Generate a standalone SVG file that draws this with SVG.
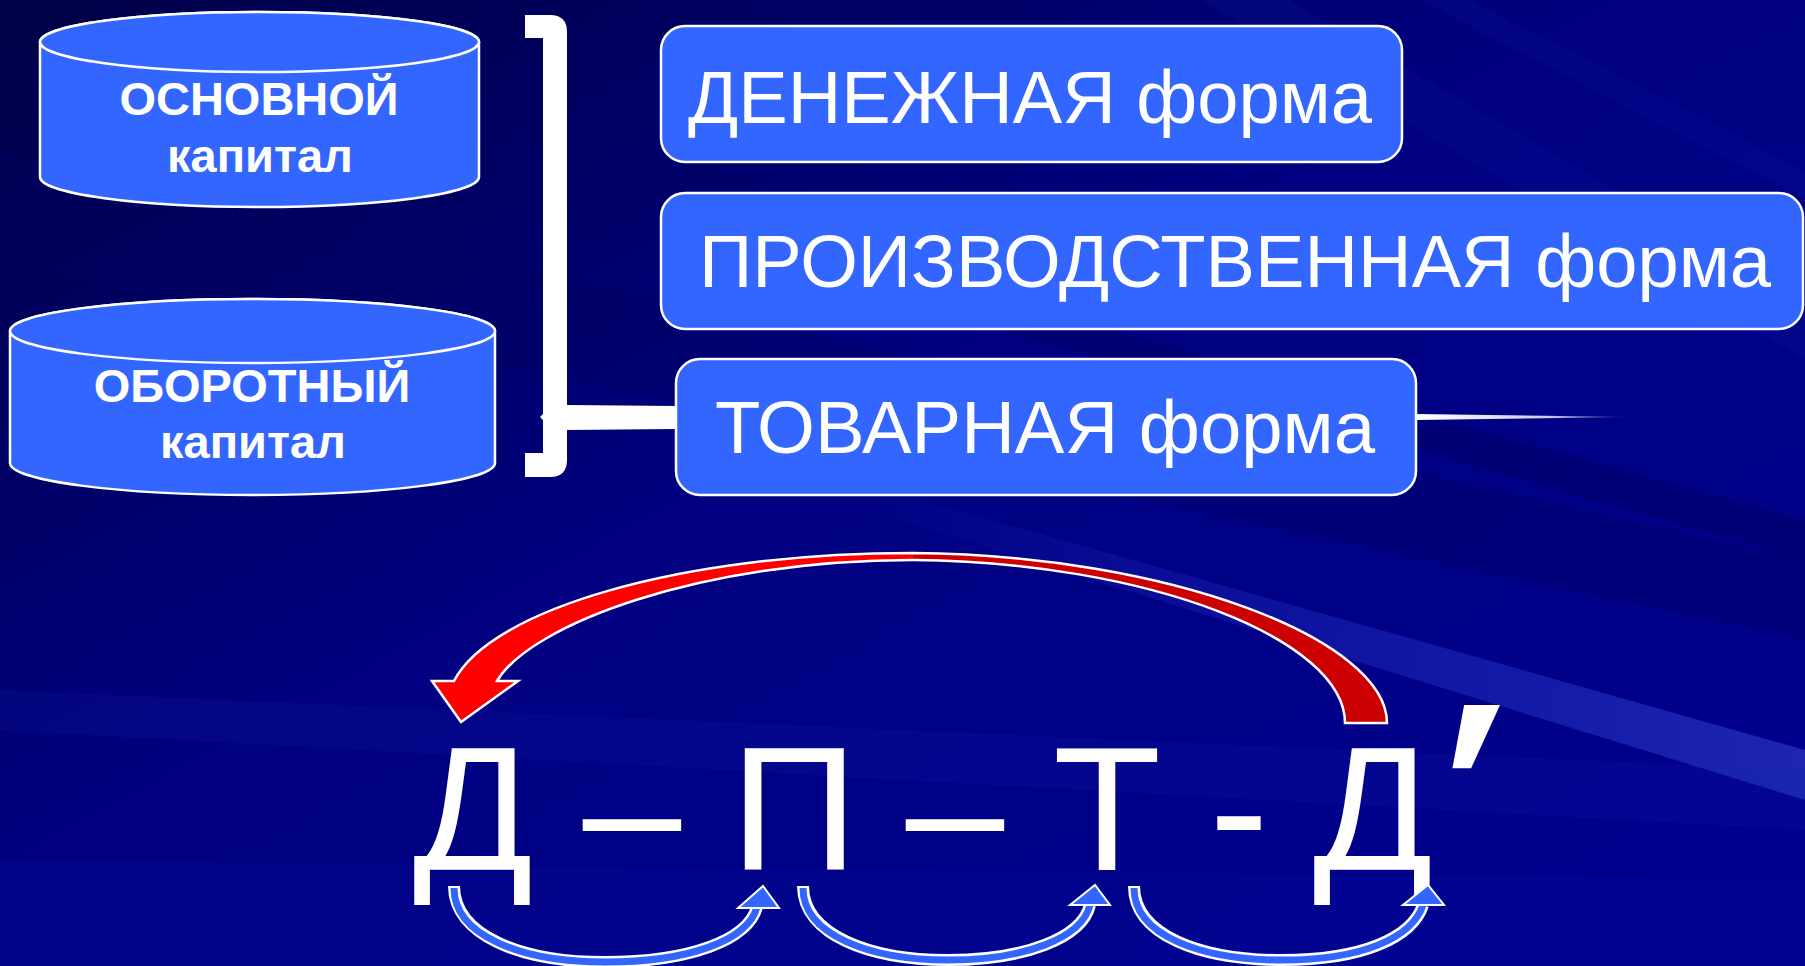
<svg xmlns="http://www.w3.org/2000/svg" width="1805" height="966" viewBox="0 0 1805 966">
<defs>
<linearGradient id="bg" x1="0" y1="0" x2="1" y2="1">
<stop offset="0" stop-color="#000046"/>
<stop offset="0.45" stop-color="#000080"/>
<stop offset="1" stop-color="#00008f"/>
</linearGradient>
<linearGradient id="ray" x1="0" y1="0" x2="1" y2="0">
<stop offset="0" stop-color="#2a3ad0" stop-opacity="0"/>
<stop offset="0.5" stop-color="#2a3ad0" stop-opacity="0.35"/>
<stop offset="1" stop-color="#3a4ad8" stop-opacity="0.5"/>
</linearGradient>
<linearGradient id="fade" x1="0" y1="0" x2="1" y2="0">
<stop offset="0" stop-color="#ffffff"/>
<stop offset="0.6" stop-color="#ffffff" stop-opacity="0.8"/>
<stop offset="1" stop-color="#ffffff" stop-opacity="0"/>
</linearGradient>
<style>
.shape{fill:#3366ff;stroke:#ffffff;stroke-width:2.5}
.cyl{font-family:"Liberation Sans",Arial,sans-serif;font-weight:bold;font-size:47px;fill:#ffffff;text-anchor:middle}
.box{font-family:"Liberation Sans",Arial,sans-serif;font-size:74px;fill:#ffffff}
.big{font-family:"Liberation Sans",Arial,"DejaVu Sans",sans-serif;font-size:177px;fill:#ffffff;text-anchor:middle}
.shaftw{fill:none;stroke:#ffffff;stroke-width:12}
.shaftb{fill:none;stroke:#3366ff;stroke-width:7}
.head{fill:#3366ff;stroke:#ffffff;stroke-width:2;stroke-linejoin:miter}
</style>
</defs>
<g id="background">
<rect width="1805" height="966" fill="url(#bg)"/>
<polygon points="0,150 1805,560 1805,640 0,260" fill="#000060" opacity="0.35"/>
<polygon points="850,480 1805,750 1805,800 850,505" fill="url(#ray)"/>
<polygon points="1200,0 1290,0 1805,300 1805,360" fill="#1a2ab8" opacity="0.12"/>
<polygon points="1420,0 1470,0 1805,170 1805,200" fill="#1a2ab8" opacity="0.12"/>
<polygon points="1000,300 1805,520 1805,560 1000,330" fill="#000050" opacity="0.3"/>
<polygon points="0,690 1805,770 1805,830 0,730" fill="#1a2ab8" opacity="0.15"/>
<polygon points="0,860 1805,880 1805,966 0,966" fill="#0a10a0" opacity="0.2"/>
</g>
<g id="cyl-osnovnoy">
<path class="shape" d="M40,42 A219.5,30 0 0 1 479,42 L479,177 A219.5,30 0 0 1 40,177 Z"/>
<ellipse class="shape" cx="259.5" cy="42" rx="219.5" ry="30"/>
<text class="cyl" x="259" y="115">ОСНОВНОЙ</text>
<text class="cyl" x="260" y="172">капитал</text>
</g>
<g id="cyl-oborotny">
<path class="shape" d="M10,331 A242.5,32 0 0 1 495,331 L495,463 A242.5,32 0 0 1 10,463 Z"/>
<ellipse class="shape" cx="252.5" cy="331" rx="242.5" ry="32"/>
<text class="cyl" x="252" y="402">ОБОРОТНЫЙ</text>
<text class="cyl" x="253" y="458">капитал</text>
</g>
<g id="box-denezhnaya">
<rect class="shape" x="661" y="26" width="741" height="136" rx="24"/>
<text class="box" x="688" y="123" textLength="684" lengthAdjust="spacingAndGlyphs">ДЕНЕЖНАЯ форма</text>
</g>
<g id="box-proizvodstvennaya">
<rect class="shape" x="661" y="193" width="1142" height="136" rx="24"/>
<text class="box" x="699" y="287" textLength="1072" lengthAdjust="spacingAndGlyphs">ПРОИЗВОДСТВЕННАЯ форма</text>
</g>
<g id="box-tovarnaya">
<rect class="shape" x="676" y="359" width="740" height="136" rx="24"/>
<text class="box" x="715" y="453" textLength="660" lengthAdjust="spacingAndGlyphs">ТОВАРНАЯ форма</text>
</g>
<g id="formula">
<text class="big" x="473" y="870">Д</text>
<text class="big" x="632" y="870">–</text>
<text class="big" x="794" y="870">П</text>
<text class="big" x="955" y="870">–</text>
<text class="big" x="1107" y="870">Т</text>
<text class="big" x="1239" y="870">-</text>
<text class="big" x="1373" y="870">Д</text>
<text class="big" x="0" y="0" style="font-size:250px" transform="translate(1472,877) scale(1.5,1)">′</text>
</g>
<g id="connectors">
<path fill="#ffffff" d="M525,15 L550,15 Q567,15 567,32 L567,405 L676,406 L676,429 L567,430 L567,460 Q567,477 550,477 L525,477 L525,453 L543,453 L543,420 L540,417 L543,414 L543,38 L525,38 Z"/>
<polygon points="1417,414 1635,417 1417,420" fill="url(#fade)"/>
<g id="red-arrow">
<path fill="#ff0000" d="M913,553 C680,553 490,610 454,681 L432,681 L461,722 L518,681 L497,681 C530,625 700,560 913,560 Z"/>
<path fill="#cc0000" d="M913,553 C1170,555 1387,640 1387,723 L1345,723 C1345,640 1150,562 913,560 Z"/>
<path fill="none" stroke="#ffffff" stroke-width="2.5" stroke-linejoin="miter" d="M913,553 C1170,555 1387,640 1387,723 L1345,723 C1345,640 1150,562 913,560 C700,560 530,625 497,681 L518,681 L461,722 L432,681 L454,681 C490,610 680,553 913,553 Z"/>
</g>
<g id="blue-arrow-1">
<path class="shaftw" d="M454,886 C454,935 520,962 605,962 C690,962 748,940 757,907"/>
<path class="shaftb" d="M454,888 C454,935 520,962 605,962 C690,962 748,940 757,907"/>
<polygon class="head" points="738,908 779,908 763,886"/>
</g>
<g id="blue-arrow-2">
<path class="shaftw" d="M803,886 C803,935 870,960 948,960 C1025,960 1082,938 1090,905"/>
<path class="shaftb" d="M803,888 C803,935 870,960 948,960 C1025,960 1082,938 1090,905"/>
<polygon class="head" points="1070,905 1110,905 1095,885"/>
</g>
<g id="blue-arrow-3">
<path class="shaftw" d="M1134,886 C1134,935 1200,960 1282,960 C1362,960 1412,938 1423,905"/>
<path class="shaftb" d="M1134,888 C1134,935 1200,960 1282,960 C1362,960 1412,938 1423,905"/>
<polygon class="head" points="1403,905 1444,905 1428,885"/>
</g>
</g>
</svg>
